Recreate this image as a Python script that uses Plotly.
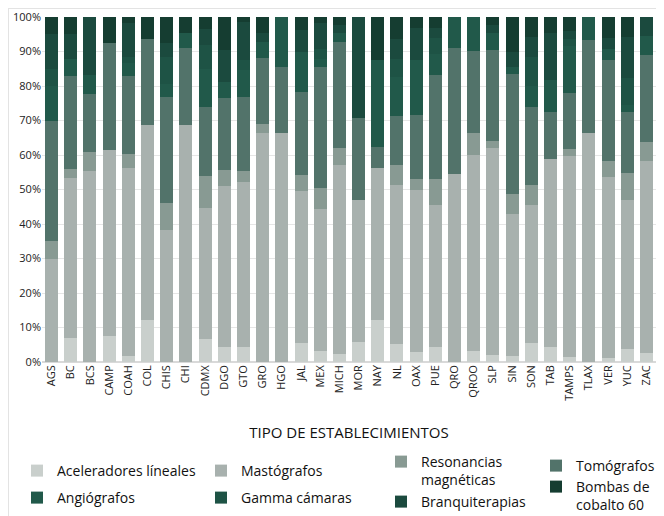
import plotly.graph_objects as go

states = ["AGS", "BC", "BCS", "CAMP", "COAH", "COL", "CHIS", "CHI", "CDMX", "DGO", "GTO",
          "GRO", "HGO", "JAL", "MEX", "MICH", "MOR", "NAY", "NL", "OAX", "PUE", "QRO",
          "QROO", "SLP", "SIN", "SON", "TAB", "TAMPS", "TLAX", "VER", "YUC", "ZAC"]

aceleradores = [0, 7.0, 0, 7.4, 1.8, 12.2, 0, 0, 6.7, 4.4, 4.4, 0, 0, 5.5, 3.1, 2.2,
                5.8, 12.3, 5.3, 2.9, 4.3, 0, 3.1, 2.1, 1.8, 5.4, 4.3, 1.5, 0, 1.1, 3.7, 2.5]
mastografos = [30, 46.4, 55.4, 54.0, 54.5, 56.4, 38.3, 68.7, 37.9, 46.6, 47.9, 66.5, 66.5, 44.0,
               41.2, 54.8, 41.2, 43.8, 46.1, 47.1, 41.1, 54.4, 56.8, 59.8, 41.0, 40.1, 54.5,
               58.3, 66.5, 52.6, 43.3, 55.8]
resonancias = [5, 2.5, 5.6, 0, 4.0, 0, 7.7, 0, 9.4, 4.6, 3.0, 2.5, 0, 4.6, 6.0, 4.9, 0, 0,
               5.6, 3.0, 7.5, 0, 6.6, 2.3, 5.9, 5.7, 0, 2.0, 0, 4.6, 7.8, 5.4]
tomografos = [35, 27.0, 16.7, 31.0, 22.7, 25.0, 30.7, 22.4, 20.0, 21.0, 21.5, 19.0, 19.1, 24.3,
              35.1, 31.0, 23.6, 6.3, 14.4, 18.7, 30.4, 36.5, 23.6, 26.3, 34.8, 22.8, 13.8,
              16.3, 26.8, 29.2, 17.6, 25.2]
angiografos = [10, 5.0, 5.5, 0, 3.7, 0, 3.9, 4.4, 10.9, 4.6, 7.8, 4.8, 14.4, 11.5, 2.4, 2.5,
               0, 25.1, 11.1, 15.8, 6.1, 9.1, 9.9, 4.9, 2.1, 6.0, 9.1, 13.5, 6.7, 3.2, 2.0, 5.5]
gamma = [5, 0, 0, 0, 1.8, 0, 7.9, 0, 7.0, 0, 3.0, 0, 0, 0, 2.8, 0, 0, 0, 5.3, 0, 4.5, 0, 0,
         0, 0, 8.5, 0, 2.0, 0, 0, 8.0, 0]
branquiterapias = [10, 7.3, 16.8, 0, 9.7, 0, 3.9, 0, 4.6, 9.3, 10.9, 2.5, 0, 6.4, 7.8, 2.4,
                   29.4, 0, 5.7, 9.4, 3.0, 0, 0, 2.4, 4.4, 5.8, 13.7, 2.4, 0, 3.1, 11.8, 5.6]
bombas = [5, 4.8, 0, 7.6, 1.8, 6.4, 7.6, 4.5, 3.5, 9.5, 1.5, 4.7, 0, 3.7, 1.6, 2.2, 0, 12.5,
          6.5, 3.1, 3.1, 0, 0, 2.2, 10.0, 5.7, 4.6, 4.0, 0, 6.2, 5.8, 0]

series_names = ["Aceleradores líneales", "Mastógrafos", "Resonancias<br>magnéticas", "Tomógrafos",
                "Angiógrafos", "Gamma cámaras", "Branquiterapias", "Bombas de<br>cobalto 60"]
series_values = [aceleradores, mastografos, resonancias, tomografos,
                 angiografos, gamma, branquiterapias, bombas]
colors = ["#c9cfcc", "#a8b1ae", "#889a93", "#52736a",
          "#21594a", "#1e5345", "#1b4a3e", "#153d31"]

FONT = "Open Sans"

# page has an 8px body margin: figure starts at page x 8, y 8
W, H = 648, 508
ML, MR, MT, MB = 34, 0, 9, 154
PW = W - ML - MR
PH = H - MT - MB

legend_ids = ["legend", "legend2", "legend3", "legend4",
              "legend5", "legend6", "legend7", "legend8"]
# legend box top-left corners, in page pixels
legend_pos_page = [(17, 455), (201, 455), (381, 446), (536, 450),
                   (17, 482), (201, 482), (381, 486), (536, 471)]


def px_to_paper_x(page_x):
    return (page_x - 8 - ML) / PW


def px_to_paper_y(page_y):
    return ((H - MB) - (page_y - 8)) / PH


fig = go.Figure()
for i, (name, vals, col) in enumerate(zip(series_names, series_values, colors)):
    fig.add_trace(go.Bar(x=states, y=vals, name=name, marker_color=col,
                         marker_line_width=0, legend=legend_ids[i]))

legend_layouts = {}
for lid, (lx, ly) in zip(legend_ids, legend_pos_page):
    legend_layouts[lid] = dict(
        x=px_to_paper_x(lx), y=px_to_paper_y(ly),
        xanchor="left", yanchor="top", orientation="v", valign="top",
        font=dict(size=14, color="#111111", family=FONT),
        bgcolor="rgba(0,0,0,0)", borderwidth=0)

fig.update_layout(
    width=W, height=H,
    barmode="stack", barnorm="percent", bargap=0.32,
    plot_bgcolor="white", paper_bgcolor="white",
    margin=dict(l=ML, r=MR, t=MT, b=MB, autoexpand=False),
    font=dict(family=FONT, color="#222222", size=11),
    showlegend=True,
    xaxis=dict(tickangle=-90, tickfont=dict(size=11, color="#222222"),
               title=dict(text="TIPO DE ESTABLECIMIENTOS", standoff=27,
                          font=dict(size=15, color="#111111")),
               showgrid=False, ticks="", showline=False, automargin=False),
    yaxis=dict(range=[0, 100], dtick=10, ticksuffix="%", gridcolor="#e6e6e6",
               tickfont=dict(size=11, color="#222222"), zeroline=True,
               zerolinecolor="#d9d9d9", showline=False, fixedrange=True,
               automargin=False),
    shapes=[dict(type="line", xref="paper", yref="paper",
                 x0=-ML / PW, x1=1.0, y0=1 + (MT - 0.5) / PH, y1=1 + (MT - 0.5) / PH,
                 line=dict(color="#e3e3e3", width=1)),
            dict(type="line", xref="paper", yref="paper",
                 x0=-(ML - 0.5) / PW, x1=-(ML - 0.5) / PW, y0=-MB / PH, y1=1 + MT / PH,
                 line=dict(color="#e3e3e3", width=1))],
    **legend_layouts,
)

fig.write_html("out.html")
